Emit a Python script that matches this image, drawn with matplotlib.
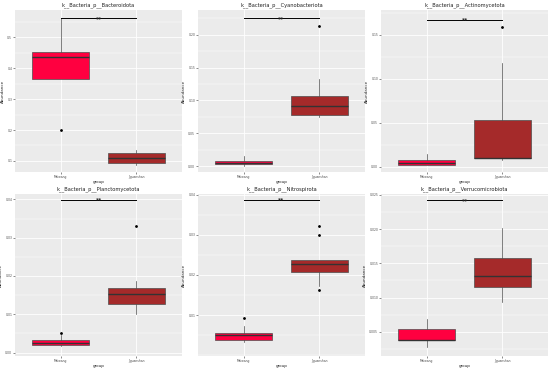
import matplotlib
matplotlib.use("Agg")
import matplotlib.pyplot as plt
from matplotlib.ticker import FixedLocator, AutoMinorLocator

groups = ["Maiwang", "Jiguanshan"]
colors = ["#FF0040", "#A52A2A"]

titles = ["k__Bacteria_p__Bacteroidota", "k__Bacteria_p__Cyanobacteriota",
          "k__Bacteria_p__Actinomycetota", "k__Bacteria_p__Planctomycetota",
          "k__Bacteria_p__Nitrospirota", "k__Bacteria_p__Verrucomicrobiota"]

# box stats per panel: [Maiwang, Jiguanshan] as (whislo, q1, med, q3, whishi)
bacteroidota = [(0.364, 0.364, 0.437, 0.454, 0.562), (0.087, 0.093, 0.108, 0.126, 0.135)]
cyanobacteriota = [(0.000, 0.0025, 0.005, 0.0076, 0.0148), (0.074, 0.0784, 0.0911, 0.1074, 0.1323)]
actinomycetota = [(0.0027, 0.0027, 0.005, 0.0083, 0.015), (0.0083, 0.0106, 0.0106, 0.0538, 0.118)]
planctomycetota = [(0.0016, 0.0021, 0.0025, 0.0032, 0.0045), (0.010, 0.0126, 0.0154, 0.0169, 0.0187)]
nitrospirota = [(0.0033, 0.0039, 0.0050, 0.0055, 0.0073), (0.0172, 0.0207, 0.0228, 0.0237, 0.0237)]
verrucomicrobiota = [(0.0028, 0.0038, 0.0039, 0.0055, 0.0069), (0.0093, 0.0116, 0.0132, 0.0158, 0.0202)]

fliers_bacteroidota = [[0.20], []]
fliers_cyanobacteriota = [[], [0.214]]
fliers_actinomycetota = [[], [0.159]]
fliers_planctomycetota = [[0.005], [0.033]]
fliers_nitrospirota = [[0.0092], [0.0322, 0.030, 0.0163]]
fliers_verrucomicrobiota = [[], []]

sig_y = [0.562, 0.225, 0.167, 0.0398, 0.0388, 0.0242]
ylims = [(0.064, 0.589), (-0.009, 0.2376), (-0.0057, 0.178),
         (-0.0009, 0.0414), (-0.0002, 0.0402), (0.0015, 0.0251)]

yticks = [[0.1, 0.2, 0.3, 0.4, 0.5], [0.00, 0.05, 0.10, 0.15, 0.20],
          [0.00, 0.05, 0.10, 0.15], [0.00, 0.01, 0.02, 0.03, 0.04],
          [0.01, 0.02, 0.03, 0.04], [0.005, 0.010, 0.015, 0.020, 0.025]]
yticklabels = [["0.1", "0.2", "0.3", "0.4", "0.5"],
               ["0.00", "0.05", "0.10", "0.15", "0.20"],
               ["0.00", "0.05", "0.10", "0.15"],
               ["0.00", "0.01", "0.02", "0.03", "0.04"],
               ["0.01", "0.02", "0.03", "0.04"],
               ["0.005", "0.010", "0.015", "0.020", "0.025"]]

all_stats = [bacteroidota, cyanobacteriota, actinomycetota,
             planctomycetota, nitrospirota, verrucomicrobiota]
all_fliers = [fliers_bacteroidota, fliers_cyanobacteriota, fliers_actinomycetota,
              fliers_planctomycetota, fliers_nitrospirota, fliers_verrucomicrobiota]

W, H = 550, 369
fig = plt.figure(figsize=(5.5, 3.69), dpi=100)
lefts = [15, 198, 381]
tops = [10, 194]
pw, ph = 167, 162

for i in range(6):
    r, c = divmod(i, 3)
    ax = fig.add_axes([lefts[c] / W, 1 - (tops[r] + ph) / H, pw / W, ph / H])
    ax.set_facecolor("#EBEBEB")
    for s in ax.spines.values():
        s.set_visible(False)
    stats = []
    for g in range(2):
        lo, q1, med, q3, hi = all_stats[i][g]
        stats.append(dict(whislo=lo, q1=q1, med=med, q3=q3, whishi=hi,
                          fliers=all_fliers[i][g], label=groups[g]))
    bp = ax.bxp(stats, positions=[1, 2], widths=0.75, patch_artist=True,
                showcaps=False,
                boxprops=dict(edgecolor="#4d4d4d", linewidth=0.5),
                whiskerprops=dict(color="#4d4d4d", linewidth=0.5),
                medianprops=dict(color="#333333", linewidth=1.0),
                flierprops=dict(marker="o", markersize=1.0, markerfacecolor="black",
                                markeredgecolor="black", linestyle="none"),
                zorder=3)
    for patch, col in zip(bp["boxes"], colors):
        patch.set_facecolor(col)
    ax.set_xlim(0.4, 2.6)
    ax.set_ylim(*ylims[i])
    ax.yaxis.set_major_locator(FixedLocator(yticks[i]))
    ax.set_yticklabels(yticklabels[i])
    ax.yaxis.set_minor_locator(AutoMinorLocator(2))
    ax.set_xticks([1, 2])
    ax.set_xticklabels(groups)
    ax.grid(which="major", color="white", linewidth=0.6, zorder=0)
    ax.grid(which="minor", axis="y", color="white", linewidth=0.3, zorder=0)
    ax.set_axisbelow(True)
    ax.tick_params(which="major", length=1.2, width=0.4, color="#333333",
                   labelsize=2.2, labelcolor="#4d4d4d", pad=0.8)
    ax.tick_params(which="minor", length=0)
    ax.set_title(titles[i], fontsize=3.7, pad=2.5, color="#222222")
    ax.set_xlabel("group", fontsize=2.9, labelpad=1, color="#222222")
    ax.set_ylabel("Abundance", fontsize=2.9, labelpad=1.5, color="#222222")
    ax.plot([1, 2], [sig_y[i], sig_y[i]], color="black", linewidth=0.7, zorder=4)
    ax.text(1.5, sig_y[i], "**", ha="center", va="center", fontsize=4.2,
            fontweight="bold", color="#222222", zorder=5)

fig.savefig("out.png", dpi=100)
